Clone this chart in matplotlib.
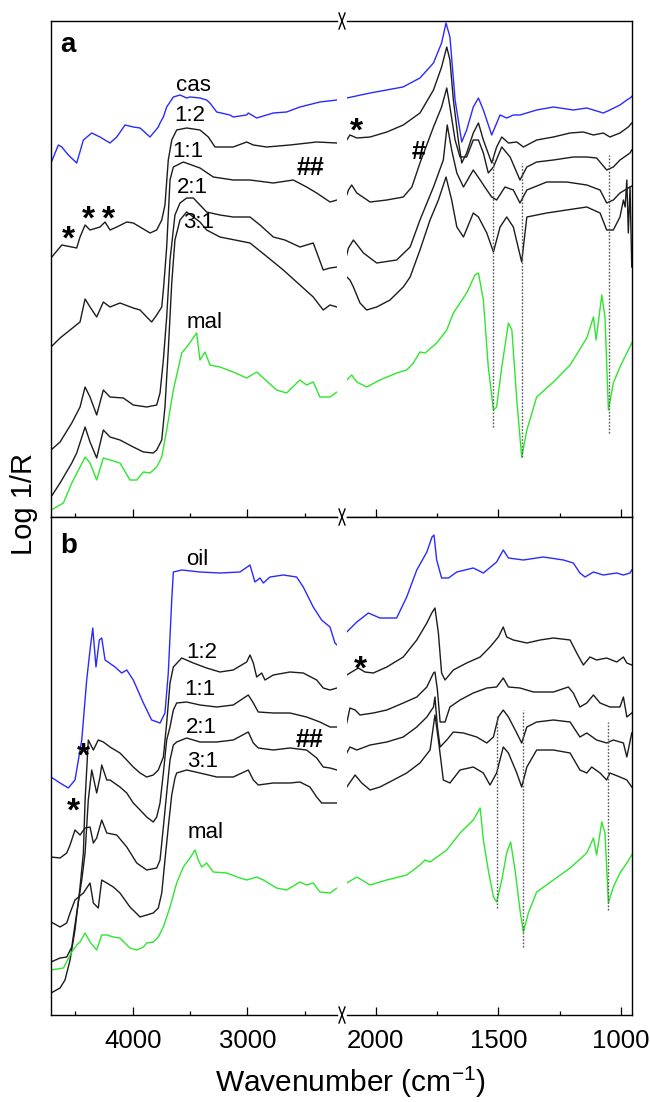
import matplotlib.pyplot as plt
from matplotlib.lines import Line2D
from matplotlib.ticker import MultipleLocator

plt.rcParams['font.family'] = ['Liberation Sans', 'DejaVu Sans']
plt.rcParams['mathtext.fontset'] = 'custom'
plt.rcParams['mathtext.rm'] = 'Liberation Sans'
plt.rcParams['mathtext.default'] = 'rm'

############# DATA (wavenumber cm-1, Log 1/R arbitrary units) #############

# ---- panel a : casein / maltodextrin mixtures ----
a_cas_left = [(4712, 354), (4648, 372), (4618, 370), (4561, 362), (4488, 354), (4430, 377),
              (4357, 384), (4285, 380), (4198, 374), (4139, 380), (4067, 392), (3995, 390),
              (3936, 389), (3849, 380), (3777, 390), (3762, 394), (3733, 400), (3704, 410),
              (3675, 415), (3646, 420), (3588, 422), (3530, 419), (3501, 420), (3414, 419),
              (3356, 417), (3327, 414), (3268, 405), (3153, 402), (3124, 400), (3007, 402),
              (2993, 404), (2920, 399), (2833, 402), (2775, 404), (2659, 405), (2543, 410),
              (2369, 415), (2220, 417)]
a_cas_right = [(2117, 419), (2022, 424), (1888, 430), (1819, 439), (1764, 454), (1731, 474),
               (1713, 494), (1697, 480), (1676, 417), (1649, 375), (1629, 387), (1602, 410),
               (1581, 419), (1561, 407), (1527, 382), (1493, 402), (1466, 399), (1439, 402),
               (1412, 402), (1344, 407), (1276, 410), (1195, 407), (1140, 409), (1073, 404),
               (1046, 407), (1005, 412), (977, 417), (964, 419), (955, 421)]

a_12_left = [(4712, 259), (4618, 272), (4488, 269), (4459, 280), (4415, 292), (4372, 287),
             (4285, 290), (4241, 295), (4198, 287), (4139, 290), (4052, 295), (3995, 294),
             (3936, 290), (3849, 284), (3791, 287), (3747, 297), (3719, 312), (3690, 357),
             (3660, 377), (3617, 387), (3530, 389), (3414, 387), (3341, 380), (3283, 370),
             (3124, 370), (3007, 375), (2949, 372), (2833, 370), (2630, 372), (2397, 375),
             (2220, 374)]
a_12_right = [(2117, 377), (2104, 382), (2076, 379), (2022, 380), (1954, 385), (1887, 392),
              (1819, 404), (1764, 427), (1731, 450), (1710, 470), (1697, 457), (1683, 417),
              (1663, 377), (1649, 354), (1629, 364), (1602, 384), (1581, 394), (1561, 377),
              (1527, 354), (1507, 370), (1486, 380), (1459, 374), (1425, 375), (1398, 370),
              (1344, 377), (1276, 380), (1208, 384), (1154, 385), (1113, 382), (1073, 384),
              (1046, 380), (1005, 384), (971, 390), (957, 394)]

a_11_left = [(4712, 170), (4633, 179), (4546, 187), (4459, 195), (4415, 218), (4372, 210),
             (4314, 200), (4256, 215), (4198, 210), (4111, 214), (3995, 209), (3936, 207),
             (3878, 200), (3835, 195), (3791, 202), (3747, 210), (3733, 227), (3719, 247),
             (3704, 270), (3675, 337), (3646, 350), (3559, 355), (3414, 349), (3298, 340),
             (3124, 337), (2978, 337), (2775, 334), (2601, 337), (2485, 330), (2397, 324),
             (2281, 315), (2220, 317)]
a_11_right = [(2117, 322), (2110, 327), (2097, 332), (2076, 324), (2022, 315), (1954, 317),
              (1887, 320), (1852, 330), (1819, 354), (1764, 390), (1731, 410), (1710, 429),
              (1697, 410), (1676, 377), (1656, 360), (1629, 360), (1602, 377), (1581, 377),
              (1561, 364), (1541, 344), (1520, 350), (1486, 370), (1452, 360), (1412, 337),
              (1384, 350), (1344, 355), (1276, 357), (1195, 360), (1140, 360), (1100, 359),
              (1059, 347), (1032, 350), (1005, 357), (964, 364), (957, 367)]

a_21_left = [(4712, 67), (4633, 75), (4531, 94), (4459, 110), (4415, 130), (4372, 120),
             (4314, 102), (4256, 127), (4198, 120), (4082, 119), (3995, 112), (3878, 110),
             (3791, 112), (3762, 124), (3733, 157), (3704, 200), (3675, 257), (3632, 302),
             (3588, 314), (3530, 319), (3472, 319), (3356, 305), (3240, 302), (3124, 300),
             (2978, 300), (2891, 292), (2775, 280), (2674, 277), (2543, 270), (2427, 274),
             (2340, 247), (2281, 249), (2220, 250)]
a_21_right = [(2117, 262), (2110, 269), (2090, 277), (2049, 264), (1995, 254), (1914, 257),
              (1859, 270), (1819, 297), (1764, 330), (1724, 357), (1708, 392), (1690, 367),
              (1669, 344), (1642, 330), (1602, 347), (1574, 337), (1547, 327), (1527, 320),
              (1507, 317), (1473, 330), (1439, 327), (1412, 314), (1384, 327), (1303, 335),
              (1222, 335), (1140, 332), (1086, 327), (1059, 314), (1032, 317), (1005, 324),
              (964, 330), (957, 331)]

a_31_left = [(4712, 20), (4633, 34), (4531, 54), (4488, 64), (4415, 90), (4372, 75),
             (4314, 59), (4256, 87), (4198, 80), (4111, 77), (3995, 70), (3907, 65),
             (3821, 64), (3791, 67), (3747, 77), (3719, 110), (3690, 167), (3660, 234),
             (3632, 277), (3588, 297), (3530, 305), (3414, 295), (3356, 287), (3240, 280),
             (2978, 274), (2848, 262), (2688, 247), (2543, 232), (2427, 220), (2340, 207),
             (2281, 212), (2220, 210)]
a_31_right = [(2117, 240), (2104, 237), (2090, 230), (2063, 214), (2036, 207), (1995, 210),
              (1941, 217), (1887, 230), (1859, 240), (1819, 267), (1778, 297), (1744, 317),
              (1713, 340), (1690, 317), (1669, 290), (1642, 280), (1602, 304), (1581, 300),
              (1547, 284), (1520, 265), (1493, 290), (1466, 300), (1439, 290), (1405, 255),
              (1384, 300), (1303, 304), (1222, 307), (1140, 310), (1086, 304), (1059, 287),
              (1032, 287), (1005, 300), (991, 317), (984, 310), (977, 337), (971, 284),
              (964, 330), (957, 250)]

a_mal_left = [(4712, 7), (4604, 14), (4531, 34), (4459, 50), (4415, 60), (4372, 54),
              (4314, 37), (4256, 59), (4198, 57), (4111, 54), (4024, 37), (3965, 37),
              (3907, 45), (3849, 44), (3791, 50), (3747, 60), (3704, 87), (3646, 127),
              (3573, 164), (3516, 172), (3443, 184), (3414, 157), (3370, 165), (3327, 152),
              (3240, 150), (3124, 145), (3007, 139), (2920, 145), (2862, 139), (2746, 127),
              (2659, 124), (2543, 137), (2485, 132), (2427, 135), (2369, 120), (2281, 120),
              (2220, 125)]
a_mal_right = [(2117, 137), (2097, 142), (2076, 135), (2036, 130), (1982, 137), (1914, 144),
               (1873, 147), (1846, 154), (1819, 165), (1798, 164), (1751, 174), (1710, 187),
               (1683, 204), (1629, 224), (1595, 242), (1581, 244), (1561, 217), (1541, 150),
               (1520, 107), (1507, 110), (1486, 150), (1459, 194), (1445, 187), (1425, 117),
               (1405, 60), (1384, 87), (1344, 120), (1276, 135), (1208, 152), (1140, 179),
               (1113, 200), (1102, 177), (1079, 222), (1066, 200), (1052, 107), (1032, 134),
               (1005, 150), (977, 164), (957, 174)]

a_marks_wn = [1520, 1405, 1048]
a_marks_top = [360, 354, 362]
a_marks_bottom = [90, 60, 84]

a_labels = ['cas', '1:2', '1:1', '2:1', '3:1', 'mal']
a_labels_wn = [3470, 3501, 3516, 3479, 3423, 3370]
a_labels_v = [426, 396, 360, 324, 289, 189]
a_stars_left = [(4561, 287), (4387, 307), (4212, 307)]
a_stars_right = [(2076, 395)]
a_hash_left = [(2447, 349, '##')]
a_hash_right = [(1826, 365, '#')]

# ---- panel b : oil / maltodextrin mixtures ----
b_oil_left = [(4712, 238), (4633, 232), (4561, 227), (4503, 235), (4444, 275), (4401, 335),
              (4372, 365), (4348, 387), (4320, 348), (4291, 375), (4270, 377), (4241, 355),
              (4154, 348), (4096, 342), (4052, 345), (3995, 335), (3907, 312), (3835, 295),
              (3762, 292), (3719, 302), (3690, 342), (3660, 415), (3646, 443), (3573, 445),
              (3414, 443), (3240, 442), (3065, 443), (2978, 450), (2935, 433), (2891, 437),
              (2862, 432), (2804, 438), (2688, 440), (2572, 438), (2514, 428), (2427, 408),
              (2354, 395), (2281, 388), (2238, 372), (2220, 370)]
b_oil_right = [(2117, 383), (2076, 393), (2029, 402), (1982, 397), (1914, 397), (1873, 418),
               (1832, 445), (1791, 463), (1770, 478), (1762, 480), (1751, 455), (1731, 437),
               (1703, 437), (1669, 443), (1602, 447), (1561, 442), (1507, 453), (1480, 465),
               (1459, 457), (1398, 455), (1317, 458), (1235, 455), (1195, 452), (1168, 442),
               (1147, 438), (1113, 443), (1073, 440), (1018, 442), (991, 440), (964, 442),
               (957, 445)]

b_12_left = [(4712, 22), (4633, 27), (4590, 35), (4546, 55), (4503, 85), (4459, 128),
             (4430, 162), (4415, 215), (4387, 275), (4343, 265), (4300, 275), (4256, 273),
             (4198, 268), (4111, 262), (4052, 255), (3995, 248), (3936, 242), (3878, 238),
             (3821, 240), (3777, 245), (3733, 258), (3704, 292), (3675, 332), (3646, 348),
             (3573, 357), (3472, 352), (3356, 347), (3240, 343), (3124, 345), (3007, 353),
             (2978, 360), (2949, 352), (2920, 338), (2876, 342), (2848, 335), (2775, 340),
             (2630, 343), (2514, 342), (2397, 335), (2340, 327), (2281, 325), (2220, 327)]
b_12_right = [(2117, 340), (2097, 343), (2070, 347), (2043, 343), (2009, 342), (1954, 348),
              (1887, 358), (1832, 375), (1791, 392), (1771, 402), (1758, 407), (1744, 382),
              (1731, 342), (1717, 335), (1683, 345), (1629, 352), (1574, 358), (1534, 368),
              (1500, 378), (1480, 388), (1466, 378), (1439, 375), (1384, 372), (1330, 375),
              (1276, 377), (1208, 375), (1181, 362), (1154, 350), (1127, 358), (1100, 355),
              (1059, 357), (1018, 353), (991, 358), (977, 352), (957, 350)]

b_11_left = [(4712, 53), (4633, 57), (4575, 58), (4531, 68), (4488, 102), (4444, 135),
             (4415, 162), (4387, 215), (4357, 245), (4314, 222), (4285, 238), (4270, 250),
             (4226, 235), (4198, 235), (4111, 228), (4052, 222), (3995, 212), (3936, 205),
             (3878, 198), (3821, 193), (3791, 198), (3762, 212), (3733, 242), (3704, 275),
             (3675, 288), (3646, 305), (3617, 312), (3530, 313), (3414, 310), (3268, 308),
             (3124, 310), (2993, 320), (2949, 312), (2906, 303), (2775, 302), (2630, 302),
             (2485, 298), (2369, 293), (2281, 288), (2220, 288)]
b_11_right = [(2117, 292), (2104, 307), (2083, 305), (2063, 300), (2009, 302), (1954, 305),
              (1887, 312), (1832, 318), (1791, 328), (1764, 342), (1758, 343), (1748, 325),
              (1737, 293), (1717, 293), (1697, 308), (1656, 315), (1602, 322), (1547, 327),
              (1507, 328), (1480, 337), (1459, 328), (1412, 327), (1357, 323), (1276, 323),
              (1215, 328), (1195, 322), (1168, 308), (1140, 312), (1113, 320), (1086, 312),
              (1046, 308), (1005, 308), (991, 318), (977, 298), (957, 302)]

b_21_left = [(4712, 158), (4633, 157), (4575, 162), (4546, 170), (4503, 185), (4459, 180),
             (4415, 187), (4372, 188), (4343, 172), (4314, 177), (4270, 195), (4226, 182),
             (4139, 180), (4052, 168), (3965, 152), (3878, 145), (3791, 147), (3762, 155),
             (3733, 188), (3704, 222), (3675, 255), (3646, 270), (3617, 273), (3530, 277),
             (3414, 273), (3268, 273), (3124, 275), (2993, 283), (2949, 272), (2906, 267),
             (2775, 265), (2630, 267), (2485, 265), (2397, 257), (2340, 248), (2281, 247),
             (2220, 245)]
b_21_right = [(2117, 262), (2104, 268), (2076, 265), (2022, 270), (1954, 273), (1887, 278),
              (1832, 288), (1791, 298), (1764, 308), (1758, 318), (1748, 288), (1737, 268),
              (1710, 275), (1683, 283), (1642, 282), (1588, 278), (1547, 272), (1520, 278),
              (1500, 298), (1480, 305), (1459, 298), (1425, 282), (1405, 272), (1384, 288),
              (1344, 293), (1276, 295), (1208, 293), (1168, 278), (1140, 282), (1100, 275),
              (1059, 272), (1032, 275), (991, 272), (977, 258), (957, 282)]

b_31_left = [(4712, 93), (4633, 88), (4575, 92), (4546, 102), (4503, 115), (4430, 122),
             (4372, 132), (4343, 112), (4300, 107), (4270, 135), (4226, 132), (4169, 128),
             (4111, 122), (4024, 108), (3936, 98), (3878, 100), (3821, 102), (3777, 107),
             (3747, 122), (3719, 155), (3690, 188), (3660, 220), (3632, 237), (3617, 242),
             (3530, 245), (3414, 242), (3268, 238), (3124, 238), (2993, 245), (2949, 235),
             (2906, 230), (2775, 232), (2630, 232), (2543, 233), (2456, 228), (2397, 218),
             (2354, 212), (2281, 212), (2220, 212)]
b_31_right = [(2117, 228), (2083, 240), (2056, 232), (2022, 225), (1982, 228), (1927, 235),
              (1873, 242), (1819, 252), (1778, 265), (1758, 300), (1744, 275), (1724, 235),
              (1697, 232), (1656, 245), (1602, 248), (1561, 242), (1534, 230), (1507, 242),
              (1480, 268), (1459, 262), (1425, 242), (1405, 228), (1384, 248), (1344, 265),
              (1276, 265), (1208, 262), (1168, 245), (1140, 242), (1120, 248), (1086, 242),
              (1059, 235), (1046, 242), (1005, 238), (977, 235), (957, 228)]

b_mal_left = [(4712, 45), (4604, 47), (4531, 63), (4488, 70), (4459, 73), (4415, 82),
              (4372, 73), (4314, 65), (4270, 80), (4226, 80), (4169, 78), (4111, 77),
              (4024, 67), (3965, 65), (3907, 68), (3878, 72), (3821, 73), (3777, 78),
              (3733, 88), (3675, 108), (3617, 132), (3559, 148), (3501, 157), (3457, 165),
              (3429, 155), (3399, 148), (3356, 152), (3298, 143), (3181, 142), (3065, 137),
              (3007, 135), (2920, 138), (2862, 135), (2746, 127), (2659, 125), (2543, 133),
              (2485, 130), (2427, 132), (2369, 123), (2281, 122), (2220, 127)]
b_mal_right = [(2117, 132), (2076, 138), (2022, 130), (1954, 135), (1873, 140), (1819, 150),
               (1798, 155), (1778, 153), (1710, 165), (1656, 182), (1602, 195), (1574, 207),
               (1561, 175), (1541, 145), (1520, 118), (1507, 113), (1486, 135), (1466, 162),
               (1450, 173), (1432, 145), (1412, 105), (1398, 83), (1378, 102), (1344, 123),
               (1276, 135), (1208, 147), (1140, 162), (1113, 177), (1100, 160), (1079, 193),
               (1066, 182), (1052, 112), (1032, 128), (1005, 142), (977, 152), (957, 160)]

b_marks_wn = [1507, 1398, 1052]
b_marks_top = [300, 305, 293]
b_marks_bottom = [107, 68, 105]

b_labels = ['oil', '1:2', '1:1', '2:1', '3:1', 'mal']
b_labels_wn = [3436, 3399, 3414, 3399, 3392, 3363]
b_labels_v = [450, 357, 320, 282, 248, 177]
b_stars_left = [(4430, 268), (4517, 213)]
b_stars_right = [(2063, 355)]
b_hash_left = [(2456, 275, '##')]
b_hash_right = []

#######################################

BLUE = '#2a2aff'
BLACK = '#1c1c1c'
GREEN = '#2ee62e'

W, H = 650, 1102
fig = plt.figure(figsize=(W / 100, H / 100), dpi=100)


def box(x0, x1, y0, y1):
    # pixel frame -> figure fraction
    return [x0 / W, 1 - y1 / H, (x1 - x0) / W, (y1 - y0) / H]


def setup(ax, xlim, ylim, major, minor, side, labels):
    ax.set_xlim(*xlim)
    ax.set_ylim(*ylim)
    ax.set_yticks([])
    ax.xaxis.set_major_locator(MultipleLocator(major))
    ax.xaxis.set_minor_locator(MultipleLocator(minor))
    ax.tick_params(axis='x', which='both', direction='in', top=False, width=0.9,
                   labelsize=18.5, pad=10, labelbottom=labels)
    ax.tick_params(axis='x', which='major', length=5.5)
    ax.tick_params(axis='x', which='minor', length=3)
    for s in ax.spines.values():
        s.set_linewidth(1.0)
    ax.spines[side].set_visible(False)


def curve(ax, pts, color):
    ax.plot([p[0] for p in pts], [p[1] for p in pts], color=color, lw=1.0)


def star(ax, pts):
    for wn, v in pts:
        ax.text(wn, v - 10, '*', fontsize=24, fontweight='bold', ha='center', va='center')


def hashes(ax, pts):
    for wn, v, s in pts:
        ax.text(wn, v, s, fontsize=18, fontweight='bold', ha='center', va='center')


panels = [
    dict(top=21, bottom=517, ylim=(0, 496),
         left=[(a_cas_left, BLUE), (a_12_left, BLACK), (a_11_left, BLACK), (a_21_left, BLACK),
               (a_31_left, BLACK), (a_mal_left, GREEN)],
         right=[(a_cas_right, BLUE), (a_12_right, BLACK), (a_11_right, BLACK), (a_21_right, BLACK),
                (a_31_right, BLACK), (a_mal_right, GREEN)],
         marks=(a_marks_wn, a_marks_top, a_marks_bottom),
         labels=(a_labels, a_labels_wn, a_labels_v),
         stars=(a_stars_left, a_stars_right), hashes=(a_hash_left, a_hash_right),
         ticklabels=False),
    dict(top=517, bottom=1015, ylim=(0, 498),
         left=[(b_oil_left, BLUE), (b_12_left, BLACK), (b_11_left, BLACK), (b_21_left, BLACK),
               (b_31_left, BLACK), (b_mal_left, GREEN)],
         right=[(b_oil_right, BLUE), (b_12_right, BLACK), (b_11_right, BLACK), (b_21_right, BLACK),
                (b_31_right, BLACK), (b_mal_right, GREEN)],
         marks=(b_marks_wn, b_marks_top, b_marks_bottom),
         labels=(b_labels, b_labels_wn, b_labels_v),
         stars=(b_stars_left, b_stars_right), hashes=(b_hash_left, b_hash_right),
         ticklabels=True),
]

for p in panels:
    axl = fig.add_axes(box(51, 337, p['top'], p['bottom']))
    axr = fig.add_axes(box(347, 632, p['top'], p['bottom']))
    setup(axl, (4712, 2220), p['ylim'], 1000, 500, 'right', p['ticklabels'])
    setup(axr, (2116, 956), p['ylim'], 500, 250, 'left', p['ticklabels'])

    for pts, c in p['left']:
        curve(axl, pts, c)
    for pts, c in p['right']:
        curve(axr, pts, c)

    wn, top, bot = p['marks']
    axr.vlines(wn, bot, top, colors='#555555', linestyles=(0, (1.2, 1.2)), lw=1.0)

    for s, x, y in zip(*p['labels']):
        axl.text(x, y, s, fontsize=16, ha='center', va='baseline')

    star(axl, p['stars'][0])
    star(axr, p['stars'][1])
    hashes(axl, p['hashes'][0])
    hashes(axr, p['hashes'][1])

# axis break markers on the frame
for yb in (21, 517, 1015):
    for dx in (-1, 1):
        fig.add_artist(Line2D([(342 - 3 * dx) / W, (342 + 3 * dx) / W],
                              [1 - (yb - 8) / H, 1 - (yb + 8) / H],
                              transform=fig.transFigure, color='k', lw=1.0))

# panel letters
fig.text(60 / W, 1 - 52 / H, 'a', fontsize=20, fontweight='bold', va='baseline')
fig.text(60 / W, 1 - 553 / H, 'b', fontsize=20, fontweight='bold', va='baseline')

# axis titles
fig.text(24 / W, 1 - 504 / H, 'Log 1/R', rotation=90, fontsize=21, ha='center', va='center')
fig.text(350 / W, 1 - 1092 / H, 'Wavenumber (cm$^{-1}$)', fontsize=21.5, ha='center', va='baseline')

fig.savefig('out.png', dpi=100)
